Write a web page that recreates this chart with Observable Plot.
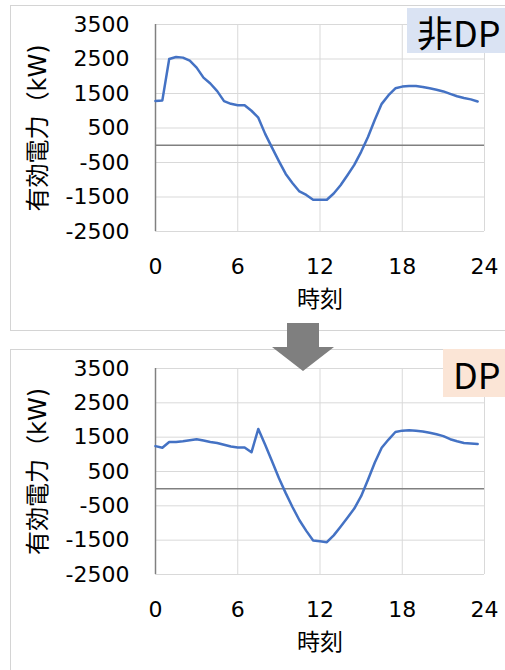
<!DOCTYPE html>
<html>
<head>
<meta charset="utf-8">
<script src="https://cdn.jsdelivr.net/npm/d3@7"></script>
<script src="https://cdn.jsdelivr.net/npm/@observablehq/plot@0.6"></script>
<style>
  html, body { margin: 0; padding: 0; background: #fff; }
  #page { position: relative; width: 505px; height: 670px; overflow: hidden; background: #fff;
          font-family: "DejaVu Sans", "Noto Sans CJK JP", sans-serif; }
  .panel { position: absolute; border: 1px solid #d4d4d4; box-sizing: border-box; background: #fff; }
  .panel svg { position: absolute; left: -1px; top: -1px; overflow: visible; }
  .tag { position: absolute; font-family: "Noto Sans CJK JP", sans-serif; font-size: 36px; line-height: 1;
         color: #000; display: flex; align-items: center; box-sizing: border-box; padding-left: 10px; white-space: nowrap; }
  #arrow { position: absolute; left: 0; top: 0; }
</style>
</head>
<body>
<div id="page">
  <div class="panel" id="top" style="left:10px; top:5px; width:510px; height:326px;"></div>
  <div class="panel" id="bottom" style="left:10px; top:349px; width:510px; height:340px;"></div>
  <div class="tag" style="left:407px; top:8px; width:110px; height:45px; background:#dae3f3;">非DP</div>
  <div class="tag" style="left:443px; top:349px; width:80px; height:48px; background:#fbe5d6;">DP</div>
  <svg id="arrow" width="505" height="670">
    <polygon points="287,323 319,323 319,347 334,347 303,371 272,347 287,347" fill="#7f7f7f"/>
  </svg>
</div>
<script>
// half-hourly time of day (h)
const hours = d3.range(0, 24, 0.5);

// active power without demand response (kW)
const nonDP = [
  1280, 1300, 2500, 2560, 2540, 2450, 2250, 1960, 1790, 1570, 1280, 1200,
  1160, 1160, 1000, 800, 330, -70, -460, -830, -1100, -1340, -1440, -1580,
  -1580, -1580, -1400, -1160, -870, -570, -190, 240, 740, 1200, 1450, 1650,
  1700, 1720, 1715, 1690, 1650, 1610, 1560, 1490, 1420, 1370, 1330, 1270
];

// active power with demand response (kW)
const withDP = [
  1240, 1190, 1360, 1360, 1380, 1410, 1440, 1400, 1360, 1330, 1280, 1230,
  1200, 1200, 1060, 1740, 1280, 800, 310, -130, -540, -920, -1230, -1510,
  -1530, -1560, -1360, -1110, -850, -580, -220, 260, 760, 1190, 1430, 1650,
  1690, 1700, 1690, 1665, 1630, 1585, 1530, 1440, 1380, 1330, 1315, 1300
];

const xTicks = [0, 6, 12, 18, 24];
const yTicks = [-2500, -1500, -500, 500, 1500, 2500, 3500];
const xLabel = "時刻";
const yLabel = "有効電力（kW)";

function chart(values, height, marginBottom) {
  const data = hours.map((h, i) => ({h, v: values[i]}));
  return Plot.plot({
    width: 495,
    height,
    marginLeft: 145,
    marginRight: 21,
    marginTop: 19,
    marginBottom,
    style: {fontFamily: "'DejaVu Sans', 'Noto Sans CJK JP', sans-serif", fontSize: "22px", color: "#000", background: "transparent"},
    x: {domain: [0, 24]},
    y: {domain: [-2500, 3500]},
    marks: [
      Plot.gridX(xTicks, {stroke: "#d9d9d9", strokeOpacity: 1, strokeWidth: 1}),
      Plot.gridY(yTicks, {stroke: "#d9d9d9", strokeOpacity: 1, strokeWidth: 1}),
      Plot.ruleY([0], {stroke: "#808080", strokeWidth: 1.5}),
      Plot.ruleX([0], {stroke: "#808080", strokeWidth: 1.5}),
      Plot.line(data, {x: "h", y: "v", stroke: "#4472c4", strokeWidth: 2.5, strokeLinejoin: "round"}),
      // tick labels
      Plot.axisX(xTicks, {tickSize: 0, tickPadding: 27, tickFormat: d => String(d), fontSize: 22, label: null}),
      Plot.axisY(yTicks, {tickSize: 0, tickPadding: 26, tickFormat: d => String(d), fontSize: 22, label: null}),
      // axis titles, slightly larger than the ticks
      Plot.axisX([], {tickSize: 0, fontSize: 23, label: xLabel, labelAnchor: "center", labelArrow: "none", labelOffset: 75}),
      Plot.axisY([], {tickSize: 0, fontSize: 24, label: yLabel, labelAnchor: "center", labelArrow: "none", labelOffset: 127})
    ]
  });
}

document.getElementById("top").appendChild(chart(nonDP, 326, 100));
document.getElementById("bottom").appendChild(chart(withDP, 321, 96));
</script>
</body>
</html>
